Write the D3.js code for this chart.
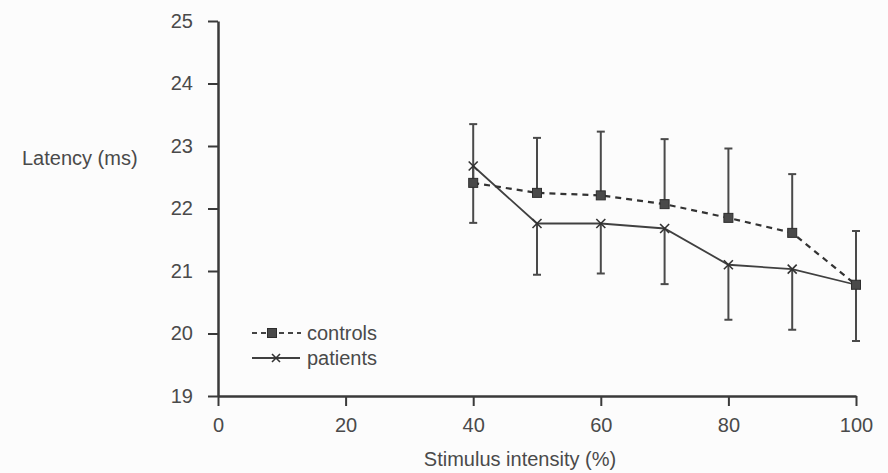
<!DOCTYPE html>
<html>
<head>
<meta charset="utf-8">
<script src="https://cdn.jsdelivr.net/npm/d3@7"></script>
<style>
  html, body { margin: 0; padding: 0; background: #fcfcfc; }
  svg { display: block; font-family: "Liberation Sans", Arial, sans-serif; }
</style>
</head>
<body>
<svg id="chart" width="888" height="473"></svg>
<script>
// Stimulus intensities (% of maximum output)
const intensity = [40, 50, 60, 70, 80, 90, 100];
// Mean latency (ms) and SD per group
const controlsMean = [22.41, 22.25, 22.21, 22.07, 21.85, 21.61, 20.78];
const controlsSD   = [0.94, 0.88, 1.02, 1.04, 1.11, 0.94, 0.86];
const patientsMean = [22.68, 21.76, 21.76, 21.68, 21.10, 21.03, 20.78];
const patientsSD   = [0.91, 0.82, 0.80, 0.89, 0.88, 0.97, 0.90];
// Axis ticks
const xTicks = [0, 20, 40, 60, 80, 100];
const yTicks = [19, 20, 21, 22, 23, 24, 25];
const xTitle = "Stimulus intensity (%)";
const yTitle = "Latency (ms)";
const legendLabels = ["controls", "patients"];

const ink = "#3a3a3a";
const textInk = "#4a4a4a";
const fs = 20;
const svg = d3.select("#chart");

const x = d3.scaleLinear().domain([0, 100]).range([218, 856]);
const y = d3.scaleLinear().domain([19, 25]).range([396, 21]);

// Axes
const xAxis = svg.append("g")
  .attr("transform", `translate(0,${y(19)})`)
  .call(d3.axisBottom(x).tickValues(xTicks).tickFormat(d3.format("d"))
    .tickSize(10).tickPadding(12).tickSizeOuter(0));
const yAxis = svg.append("g")
  .attr("transform", `translate(${x(0)},0)`)
  .call(d3.axisLeft(y).tickValues(yTicks).tickFormat(d3.format("d"))
    .tickSize(10).tickPadding(15).tickSizeOuter(0));

[xAxis, yAxis].forEach(g => {
  g.select(".domain").attr("stroke", ink).attr("stroke-width", 2.5);
  g.selectAll(".tick line").attr("stroke", ink).attr("stroke-width", 2);
  g.selectAll(".tick text").attr("fill", textInk).attr("font-size", fs)
    .attr("font-family", "Liberation Sans, Arial, sans-serif");
});

// Axis titles
svg.append("text").attr("x", 22).attr("y", 165)
  .attr("fill", textInk).attr("font-size", fs).text(yTitle);
svg.append("text").attr("x", 520).attr("y", 466)
  .attr("text-anchor", "middle").attr("fill", textInk).attr("font-size", fs).text(xTitle);

const controls = intensity.map((v, i) => ({ x: v, m: controlsMean[i], sd: controlsSD[i] }));
const patients = intensity.map((v, i) => ({ x: v, m: patientsMean[i], sd: patientsSD[i] }));

const barColor = "#4a4a4a";
const capW = 4;

// Error bars: controls upward, patients downward
function errorBars(data, dir, cls) {
  const g = svg.append("g").attr("class", cls);
  data.forEach(d => {
    const y0 = y(d.m), y1 = y(d.m + dir * d.sd), cx = x(d.x);
    g.append("line").attr("x1", cx).attr("x2", cx).attr("y1", y0).attr("y2", y1)
      .attr("stroke", barColor).attr("stroke-width", 2);
    g.append("line").attr("x1", cx - capW).attr("x2", cx + capW).attr("y1", y1).attr("y2", y1)
      .attr("stroke", barColor).attr("stroke-width", 2);
  });
}
errorBars(controls, 1, "controls-err");
errorBars(patients, -1, "patients-err");

const line = d3.line().x(d => x(d.x)).y(d => y(d.m));

// Patients: solid line with x markers
svg.append("path").datum(patients).attr("d", line)
  .attr("fill", "none").attr("stroke", "#404040").attr("stroke-width", 1.8);
const xMark = (g, cx, cy, r) => {
  g.append("line").attr("x1", cx - r).attr("x2", cx + r).attr("y1", cy - r).attr("y2", cy + r)
    .attr("stroke", "#333").attr("stroke-width", 1.6);
  g.append("line").attr("x1", cx - r).attr("x2", cx + r).attr("y1", cy + r).attr("y2", cy - r)
    .attr("stroke", "#333").attr("stroke-width", 1.6);
};
const pm = svg.append("g");
patients.forEach(d => xMark(pm, x(d.x), y(d.m), 4.5));

// Controls: dashed line with filled squares
svg.append("path").datum(controls).attr("d", line)
  .attr("fill", "none").attr("stroke", "#333").attr("stroke-width", 2.2)
  .attr("stroke-dasharray", "6,5");
const sq = 9;
svg.append("g").selectAll("rect").data(controls).join("rect")
  .attr("x", d => x(d.x) - sq / 2).attr("y", d => y(d.m) - sq / 2)
  .attr("width", sq).attr("height", sq)
  .attr("fill", "#4a4a4a").attr("stroke", "#2e2e2e").attr("stroke-width", 1);

// Legend
const lg = svg.append("g");
lg.append("line").attr("x1", 252).attr("x2", 301).attr("y1", 333).attr("y2", 333)
  .attr("stroke", "#444").attr("stroke-width", 1.8).attr("stroke-dasharray", "5,4");
lg.append("rect").attr("x", 272 - sq / 2).attr("y", 333 - sq / 2).attr("width", sq).attr("height", sq)
  .attr("fill", "#4a4a4a").attr("stroke", "#2e2e2e");
lg.append("line").attr("x1", 252).attr("x2", 300).attr("y1", 358).attr("y2", 358)
  .attr("stroke", "#404040").attr("stroke-width", 1.8);
xMark(lg, 276, 358, 4);
lg.selectAll("text").data(legendLabels).join("text")
  .attr("x", 307).attr("y", (d, i) => 340 + i * 25)
  .attr("fill", textInk).attr("font-size", fs).text(d => d);
</script>
</body>
</html>
